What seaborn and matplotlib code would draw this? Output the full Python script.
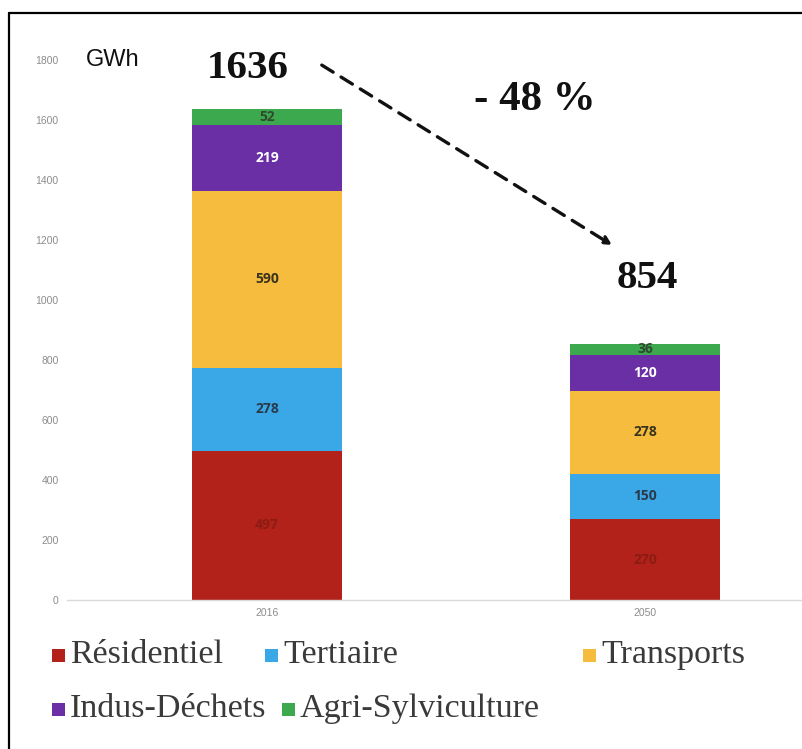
import matplotlib
matplotlib.use("Agg")
import matplotlib.pyplot as plt
from matplotlib.patches import Rectangle
from matplotlib.lines import Line2D
import numpy as np
import seaborn as sns

# Consumption by sector (GWh)
years = ["2016", "2050"]
sectors = ["Résidentiel", "Tertiaire", "Transports", "Indus-Déchets", "Agri-Sylviculture"]
residentiel = [497, 270]
tertiaire = [278, 150]
transports = [590, 278]
indus_dechets = [219, 120]
agri_sylviculture = [52, 36]
totals = [1636, 854]
change_label = "- 48 %"
y_ticks = [0, 200, 400, 600, 800, 1000, 1200, 1400, 1600, 1800]

series = [residentiel, tertiaire, transports, indus_dechets, agri_sylviculture]
colors = ["#B2221A", "#3AA8E6", "#F5BC3E", "#6A2FA5", "#3DA94E"]
label_colors = ["#8A1C14", "#2B3A4A", "#3A3320", "#FFFFFF", "#2F4A2F"]

sns.set_theme(style="white")
plt.rcParams["font.family"] = ["Liberation Sans", "DejaVu Sans"]

W, H = 803, 749
fig = plt.figure(figsize=(W / 100, H / 100), dpi=100)
fig.patch.set_facecolor("white")

ax_left, ax_right = 67 / W, 1.0
ax_bottom, ax_top = (H - 600) / H, (H - 60) / H
ax = fig.add_axes([ax_left, ax_bottom, ax_right - ax_left, ax_top - ax_bottom])

bar_w = 0.397
bottoms = np.zeros(len(years))
for name, vals, col, lc in zip(sectors, series, colors, label_colors):
    sns.barplot(x=years, y=vals, bottom=bottoms.copy(), color=col, width=bar_w,
                errorbar=None, ax=ax, saturation=1, linewidth=0)
    for i, v in enumerate(vals):
        ax.text(i, bottoms[i] + v / 2, f"{v}", ha="center", va="center",
                fontsize=10, fontweight="bold", color=lc, family="Open Sans")
    bottoms += np.array(vals)

ax.set_xlim(-0.529, 1.418)
ax.set_ylim(0, 1800)
ax.set_yticks(y_ticks)
ax.set_yticklabels([str(t) for t in y_ticks])
ax.tick_params(axis="both", length=0, labelsize=7.5, colors="#8C8C8C", pad=6)
ax.set_xlabel("")
ax.set_ylabel("")
for s in ["top", "right", "left"]:
    ax.spines[s].set_visible(False)
ax.spines["bottom"].set_color("#D9D9D9")
ax.spines["bottom"].set_linewidth(1.0)
ax.grid(False)

# Totals, unit and change annotation
serif = ["Liberation Serif", "DejaVu Serif"]
ax.text(-0.05, 1773, f"{totals[0]}", ha="center", va="center", fontsize=29.5,
        fontweight="bold", family=serif, color="#111111")
ax.text(1.005, 1070, f"{totals[1]}", ha="center", va="center", fontsize=29.5,
        fontweight="bold", family=serif, color="#111111")
ax.text(0.709, 1667, change_label, ha="center", va="center", fontsize=31,
        fontweight="bold", family=serif, color="#111111")
ax.text(-0.48, 1800, "GWh", ha="left", va="center", fontsize=17, color="#111111")
ax.annotate("", xy=(0.913, 1183), xytext=(0.145, 1783),
            arrowprops=dict(arrowstyle="-|>", linestyle=(0, (4, 2.8)), lw=2.4,
                            color="#111111", mutation_scale=12, shrinkA=0, shrinkB=0))

# Legend entries (two rows)
legend_items = [
    (sectors[0], colors[0], 52, 655),
    (sectors[1], colors[1], 265, 655),
    (sectors[2], colors[2], 583, 655),
    (sectors[3], colors[3], 52, 709),
    (sectors[4], colors[4], 282, 709),
]
for name, col, px, py in legend_items:
    sq = 13
    fig.patches.append(Rectangle((px / W, (H - py - sq / 2) / H), sq / W, sq / H,
                                 transform=fig.transFigure, facecolor=col,
                                 edgecolor="none"))
    fig.text((px + sq + 5) / W, (H - py) / H, name, ha="left", va="center",
             fontsize=24.5, family=serif, color="#3A3A3A")

# Frame lines along the top and left edges
fig.add_artist(Line2D([9 / W, 1.0], [(H - 13) / H, (H - 13) / H],
                      transform=fig.transFigure, color="black", lw=1.6))
fig.add_artist(Line2D([9 / W, 9 / W], [0, (H - 13) / H],
                      transform=fig.transFigure, color="black", lw=1.6))

fig.savefig("out.png", dpi=100, facecolor="white")
